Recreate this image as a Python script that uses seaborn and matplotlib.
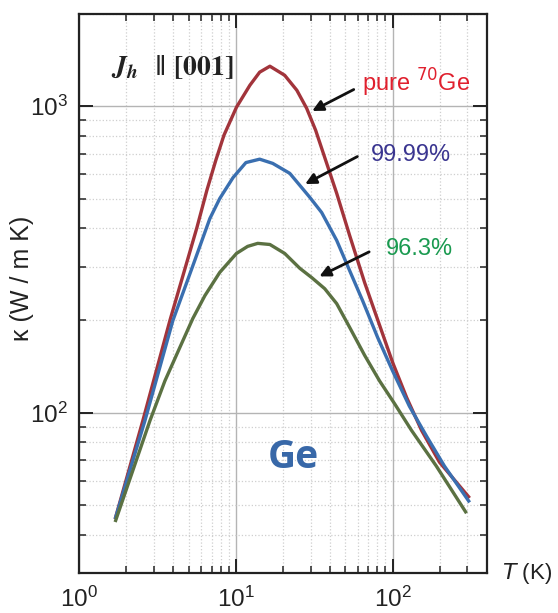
import numpy as np
import pandas as pd
import seaborn as sns
import matplotlib.pyplot as plt
from matplotlib.ticker import LogLocator, NullFormatter

# thermal conductivity of Ge samples (T in K, kappa in W/mK)
t_pure = [1.7, 2.55, 3.8, 5.65, 6.54, 7.46, 8.4, 10.1, 12.3, 14.2, 16.5, 20.5, 24.5, 28.3, 32.3, 37.4, 44.0, 53.2, 66.3, 82.6, 100.0, 123.0, 153.0, 199.0, 310.0]
k_pure = [45, 94, 200, 402, 532, 667, 804, 993, 1171, 1292, 1351, 1262, 1128, 985, 835, 667, 520, 379, 266, 193, 146, 112, 87.6, 69, 52.7]

t_9999 = [1.7, 2.63, 3.97, 5.3, 6.83, 7.9, 9.6, 11.6, 14.2, 17.2, 22.1, 29.6, 35.3, 44.0, 53.2, 64.4, 80.3, 100.0, 128.0, 165.0, 214.0, 310.0]
k_9999 = [45, 94, 200, 300, 430, 500, 585, 655, 672, 651, 604, 505, 450, 365, 291, 232, 176, 137, 105, 83.7, 67, 51]

t_963 = [1.7, 2.83, 3.53, 4.46, 5.32, 6.35, 7.9, 10.1, 11.9, 13.8, 16.5, 20.5, 25.6, 30.5, 36.9, 44.0, 53.2, 66.3, 82.6, 103.0, 132.0, 190.0, 296.0]
k_963 = [44, 94, 127, 166, 203, 241, 287, 331, 349, 357, 354, 331, 296, 276, 254, 227, 190, 154, 127, 107, 87.6, 67, 47]

samples = ['pure', '99.99', '96.3']
line_colors = ['#a2343b', '#3a6fb0', '#5b7142']

df = pd.concat([
    pd.DataFrame({'T': t_pure, 'kappa': k_pure, 'sample': 'pure'}),
    pd.DataFrame({'T': t_9999, 'kappa': k_9999, 'sample': '99.99'}),
    pd.DataFrame({'T': t_963, 'kappa': k_963, 'sample': '96.3'}),
])

sns.set_theme(style='ticks')
plt.rcParams['font.family'] = ['Liberation Sans', 'DejaVu Sans']

fig = plt.figure(figsize=(5.58, 6.13), dpi=100)
ax = fig.add_axes([79 / 558, 40 / 613, 408 / 558, 559 / 613])

sns.lineplot(data=df, x='T', y='kappa', hue='sample', hue_order=samples,
             palette=line_colors, linewidth=2.4, legend=False, ax=ax, sort=False,
             solid_joinstyle='round', solid_capstyle='butt')

ax.set_xscale('log')
ax.set_yscale('log')
ax.set_xlim(1, 400)
ax.set_ylim(30, 2000)
ax.xaxis.set_minor_locator(LogLocator(base=10, subs=np.arange(2, 10)))
ax.yaxis.set_minor_locator(LogLocator(base=10, subs=np.arange(2, 10)))
ax.xaxis.set_minor_formatter(NullFormatter())
ax.yaxis.set_minor_formatter(NullFormatter())
ax.set_xlabel('')
ax.set_ylabel('')

ax.grid(which='major', color='#b4b4b4', linewidth=1.0, linestyle='-')
ax.grid(which='minor', color='#cfcfcf', linewidth=0.9, linestyle=':')
ax.set_axisbelow(True)

for s in ax.spines.values():
    s.set_linewidth(1.6)
    s.set_color('#222222')
ax.tick_params(which='both', direction='in', top=True, right=True, colors='#222222')
ax.tick_params(which='major', length=10, width=1.4, labelsize=17.5, pad=8)
ax.tick_params(which='minor', length=5, width=1.1)
ax.tick_params(axis='x', which='major', pad=10)

# labels on the curves
ax.text(142, 1190, 'pure $^{70}$Ge', color='#e0202e', fontsize=17, ha='center', va='center')
ax.text(130, 692, '99.99%', color='#3a3590', fontsize=17, ha='center', va='center')
ax.text(149, 343, '96.3%', color='#1a9a50', fontsize=17, ha='center', va='center')

arrow = dict(arrowstyle='-|>', color='#111111', lw=2.0, mutation_scale=16)
ax.annotate('', xy=(29.6, 956), xytext=(58.6, 1145), arrowprops=arrow)
ax.annotate('', xy=(26.7, 552), xytext=(61.8, 692), arrowprops=arrow)
ax.annotate('', xy=(32.9, 276), xytext=(73.5, 338), arrowprops=arrow)

ax.text(0.228, 0.905, r'$\mathbfit{J_h}$  ‖ $\mathbf{[001]}$', transform=ax.transAxes,
        fontsize=20, math_fontfamily='stix', ha='center', va='center', color='#222222')
ax.text(0.525, 0.207, 'Ge', transform=ax.transAxes, fontsize=28, fontweight='bold',
        family=['Open Sans', 'DejaVu Sans'], color='#3868a8', ha='center', va='center')

fig.text(22 / 558, 1 - 278 / 613, 'κ (W / m K)', rotation=90, fontsize=18,
         ha='center', va='center', color='#222222')
fig.text(502 / 558, 1 - 573 / 613, '$T$ (K)', fontsize=16, ha='left', va='center',
         color='#222222')

fig.savefig('out.png', dpi=100)
